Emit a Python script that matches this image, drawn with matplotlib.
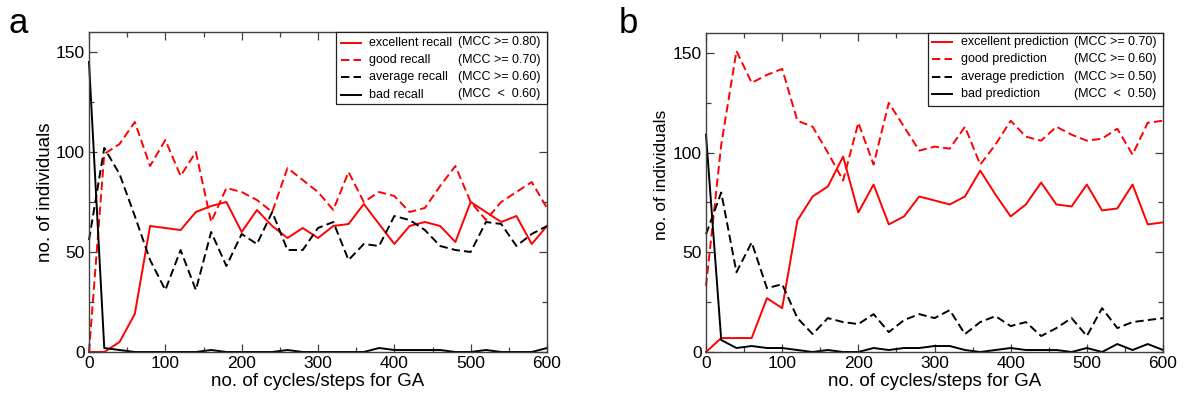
import matplotlib
matplotlib.use("Agg")
import matplotlib.pyplot as plt
from matplotlib.lines import Line2D
from matplotlib.patches import Rectangle
from matplotlib.ticker import MultipleLocator

plt.rcParams["font.family"] = ["Liberation Sans", "DejaVu Sans"]
plt.rcParams["lines.scale_dashes"] = False

# GA cycles (sampled every 20 steps)
steps = list(range(0, 601, 20))

# Panel a: recall classes
excellent_recall = [0, 0, 5, 19, 63, 62, 61, 70, 73, 75, 60, 71, 63, 57, 62, 57,
                    63, 64, 74, 64, 54, 63, 65, 63, 55, 75, 70, 65, 68, 54, 63]
good_recall = [0, 99, 104, 115, 93, 106, 88, 100, 65, 82, 80, 76, 70, 92, 86, 80,
               71, 90, 75, 80, 78, 70, 72, 83, 93, 75, 66, 75, 80, 85, 72]
average_recall = [56, 102, 89, 68, 46, 31, 51, 31, 60, 43, 59, 54, 70, 51, 51, 62,
                  65, 46, 54, 53, 68, 66, 61, 53, 51, 50, 65, 64, 53, 59, 63]
bad_recall = [145, 2, 1, 0, 0, 0, 0, 0, 1, 0, 0, 0, 0, 1, 0, 0,
              0, 0, 0, 2, 1, 1, 1, 1, 0, 0, 1, 0, 0, 0, 2]

# Panel b: prediction classes
excellent_prediction = [0, 7, 7, 7, 27, 22, 66, 78, 83, 98, 70, 84, 64, 68, 78, 76,
                        74, 78, 91, 79, 68, 74, 85, 74, 73, 84, 71, 72, 84, 64, 65]
good_prediction = [33, 104, 151, 135, 139, 142, 116, 113, 100, 86, 115, 94, 125, 113, 101, 103,
                   102, 113, 94, 104, 116, 108, 106, 113, 109, 106, 107, 112, 99, 115, 116]
average_prediction = [59, 80, 40, 55, 32, 34, 17, 9, 17, 15, 14, 19, 10, 16, 19, 17,
                      21, 9, 15, 18, 13, 15, 8, 12, 17, 8, 22, 12, 15, 16, 17]
bad_prediction = [109, 6, 2, 3, 2, 2, 1, 0, 1, 0, 0, 2, 1, 2, 2, 3,
                  3, 1, 0, 1, 2, 1, 1, 1, 0, 2, 0, 4, 1, 4, 1]

recall_names = ["excellent recall", "good recall", "average recall", "bad recall"]
recall_mcc = ["(MCC >= 0.80)", "(MCC >= 0.70)", "(MCC >= 0.60)", "(MCC  <  0.60)"]
prediction_names = ["excellent prediction", "good prediction",
                    "average prediction", "bad prediction"]
prediction_mcc = ["(MCC >= 0.70)", "(MCC >= 0.60)", "(MCC >= 0.50)", "(MCC  <  0.50)"]

W, H = 1184, 396
fig = plt.figure(figsize=(W / 100, H / 100), dpi=100)

SOLID = "-"
DASHED = (0, (6, 3))
line_styles = [("red", SOLID), ("red", DASHED), ("black", DASHED), ("black", SOLID)]
SPINE = "#404040"


def px_rect(left, top, right, bottom):
    return [left / W, 1 - bottom / H, (right - left) / W, (bottom - top) / H]


def draw_panel(box_px, series, names, mccs, legend_px, ylabel_pos, ylabel_size):
    left, top, right, bottom = box_px
    ax = fig.add_axes(px_rect(*box_px))
    for values, (color, ls) in zip(series, line_styles):
        ax.plot(steps, values, color=color, linestyle=ls, lw=1.4, clip_on=False)
    ax.set_xlim(0, 600)
    ax.set_ylim(0, 160)
    ax.xaxis.set_major_locator(MultipleLocator(100))
    ax.xaxis.set_minor_locator(MultipleLocator(50))
    ax.yaxis.set_major_locator(MultipleLocator(50))
    ax.yaxis.set_minor_locator(MultipleLocator(25))
    ax.tick_params(which="both", direction="in", top=True, right=True,
                   color=SPINE, width=0.9, labelsize=12.5, pad=3)
    ax.tick_params(which="major", length=5.8)
    ax.tick_params(which="minor", length=3.6)
    for sp in ax.spines.values():
        sp.set_color(SPINE)
        sp.set_linewidth(1.0)
    ax.set_xlabel("no. of cycles/steps for GA", fontsize=13.5, va="center")
    ax.xaxis.set_label_coords(0.5, (bottom - 381) / (bottom - top))
    ax.set_ylabel("no. of individuals", fontsize=ylabel_size, va="center")
    ax.yaxis.set_label_coords((ylabel_pos[0] - left) / (right - left),
                              (bottom - ylabel_pos[1]) / (bottom - top))

    def fx(px):
        return (px - left) / (right - left)

    def fy(py):
        return (bottom - py) / (bottom - top)

    lx0, ly0, lx1, ly1, hx0, hx1, nx, mx = legend_px
    ax.add_patch(Rectangle((fx(lx0), fy(ly1)), fx(lx1) - fx(lx0), fy(ly0) - fy(ly1),
                           transform=ax.transAxes, facecolor="white",
                           edgecolor="#202020", lw=0.9, zorder=5, clip_on=False))
    rows = [42.5, 59.5, 77, 94.5]
    for ry, (color, ls), name, mcc in zip(rows, line_styles, names, mccs):
        ax.add_line(Line2D([fx(hx0), fx(hx1)], [fy(ry), fy(ry)], transform=ax.transAxes,
                           color=color, linestyle=ls, lw=1.4, zorder=6, clip_on=False))
        ax.text(fx(nx), fy(ry), name, transform=ax.transAxes, fontsize=9,
                va="center", ha="left", zorder=6)
        ax.text(fx(mx), fy(ry), mcc, transform=ax.transAxes, fontsize=9,
                va="center", ha="left", zorder=6)
    return ax


draw_panel((89, 32, 547, 352),
           [excellent_recall, good_recall, average_recall, bad_recall],
           recall_names, recall_mcc,
           (336, 32, 547, 104, 341, 361, 369, 458), (45, 192), 13.5)
draw_panel((706, 33, 1163, 352),
           [excellent_prediction, good_prediction, average_prediction, bad_prediction],
           prediction_names, prediction_mcc,
           (928, 33, 1163, 106, 932, 952, 961, 1074), (662, 175), 12.5)

fig.text(8 / W, 1 - 33 / H, "a", fontsize=25, ha="left", va="baseline")
fig.text(619 / W, 1 - 33 / H, "b", fontsize=25, ha="left", va="baseline")

fig.savefig("out.png", dpi=100)
